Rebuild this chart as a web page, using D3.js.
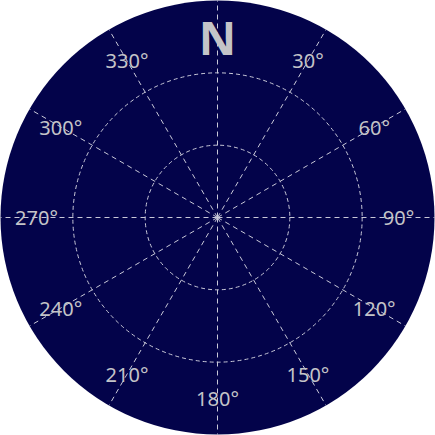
<!DOCTYPE html>
<html><head><meta charset="utf-8">
<script src="https://cdn.jsdelivr.net/npm/d3@7"></script>
<style>html,body{margin:0;padding:0;background:#fff;}svg{display:block;}</style>
</head><body>
<script>
const angles = [0, 30, 60, 90, 120, 150, 180, 210, 240, 270, 300, 330];
const labels = ["N", "30°", "60°", "90°", "120°", "150°", "180°", "210°", "240°", "270°", "300°", "330°"];
const rings = [1, 2, 3];

const W = 435, H = 435;
const cx = 217.5, cy = 217.5, R = 217;
const svg = d3.select("body").append("svg").attr("width", W).attr("height", H);
const g = svg.append("g").attr("transform", `translate(${cx},${cy})`);

const rScale = d3.scaleLinear().domain([0, 3]).range([0, R]);
const aScale = d3.scaleLinear().domain([0, 360]).range([0, 2 * Math.PI]);

g.append("circle").attr("r", R).attr("fill", "#03034a");

const lineColor = "#c8c8d8";
g.selectAll("circle.ring").data(rings.filter(d => d < 3)).join("circle")
  .attr("class", "ring").attr("r", d => rScale(d))
  .attr("fill", "none").attr("stroke", lineColor).attr("stroke-width", 1)
  .attr("stroke-dasharray", "4,3");

g.selectAll("line.spoke").data(angles).join("line")
  .attr("class", "spoke")
  .attr("x1", 0).attr("y1", 0)
  .attr("x2", d => Math.sin(aScale(d)) * R)
  .attr("y2", d => -Math.cos(aScale(d)) * R)
  .attr("stroke", lineColor).attr("stroke-width", 1)
  .attr("stroke-dasharray", "5,4");

const lr = 181;
g.selectAll("text.lab").data(angles).join("text")
  .attr("class", "lab")
  .attr("x", d => Math.sin(aScale(d)) * lr)
  .attr("y", d => -Math.cos(aScale(d)) * lr)
  .attr("text-anchor", "middle")
  .attr("dominant-baseline", "central")
  .attr("fill", "#c4c4c8")
  .attr("font-family", "'Noto Sans', sans-serif")
  .attr("font-weight", (d, i) => i === 0 ? "bold" : "normal")
  .attr("font-size", (d, i) => i === 0 ? 46 : 20)
  .text((d, i) => labels[i]);
</script>
</body></html>
